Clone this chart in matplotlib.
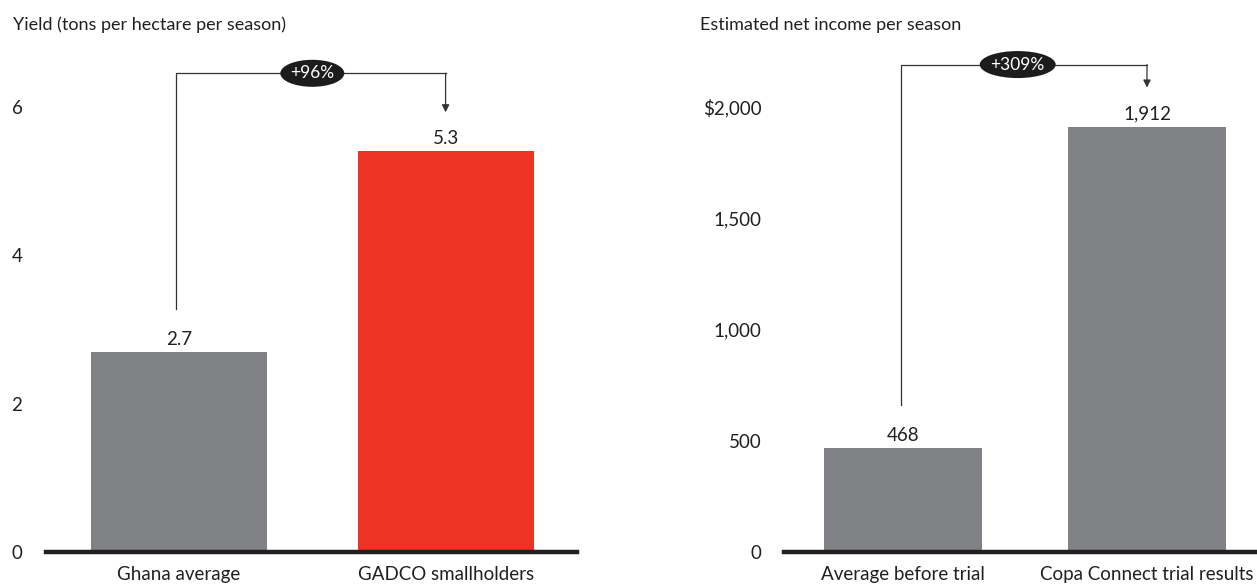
import matplotlib
matplotlib.use('Agg')
import matplotlib.pyplot as plt
from matplotlib.patches import Ellipse

# Left panel: yield
yield_labels = ['Ghana average', 'GADCO smallholders']
yield_values = [2.7, 5.4]
yield_value_text = ['2.7', '5.3']
yield_ticks = [0, 2, 4, 6]
yield_tick_text = ['0', '2', '4', '6']
yield_change = '+96%'

# Right panel: net income
income_labels = ['Average before trial', 'Copa Connect trial results']
income_values = [468, 1912]
income_value_text = ['468', '1,912']
income_ticks = [0, 500, 1000, 1500, 2000]
income_tick_text = ['0', '500', '1,000', '1,500', '$2,000']
income_change = '+309%'

GRAY = '#808184'
RED = '#ee3224'
INK = '#231f20'
FIG_W, FIG_H = 1257, 586
FS = 13.5

plt.rcParams['font.family'] = ['Lato', 'DejaVu Sans']


def px_scale(fig, ax):
    # data units per pixel, (x, y)
    pos = ax.get_position()
    w_px = pos.width * fig.get_figwidth() * fig.dpi
    h_px = pos.height * fig.get_figheight() * fig.dpi
    x0, x1 = ax.get_xlim()
    y0, y1 = ax.get_ylim()
    return (x1 - x0) / w_px, (y1 - y0) / h_px


def draw_panel(fig, rect, labels, values, value_text, ticks, tick_text,
               colors, ylim_top, xlim, bar_width, tick_pad, title, title_x,
               change, badge_x, badge_w, top_gap):
    ax = fig.add_axes(rect)
    x = list(range(len(values)))
    ax.bar(x, values, width=bar_width, color=colors, zorder=2)

    ax.set_xlim(*xlim)
    ax.set_ylim(0, ylim_top)
    ax.set_xticks(x)
    ax.set_xticklabels(labels, fontsize=FS, color=INK)
    ax.set_yticks(ticks)
    ax.set_yticklabels(tick_text, fontsize=FS, color=INK)
    ax.tick_params(axis='y', length=0, pad=tick_pad)
    ax.tick_params(axis='x', length=0, pad=10)

    for side in ['top', 'right', 'left']:
        ax.spines[side].set_visible(False)
    ax.spines['bottom'].set_color(INK)
    ax.spines['bottom'].set_linewidth(3.2)
    ax.spines['bottom'].set_zorder(3)

    for xi, v, t in zip(x, values, value_text):
        ax.annotate(t, (xi, v), xytext=(0, 5), textcoords='offset points',
                    ha='center', va='baseline', fontsize=FS, color=INK)

    # bracket with the growth badge
    sx, sy = px_scale(fig, ax)
    y_bottom = values[0] + 43 * sy
    y_top = values[1] + top_gap * sy
    y_tip = values[1] + 39 * sy
    ax.plot([x[0] - 0.01, x[0] - 0.01, x[1]], [y_bottom, y_top, y_top],
            color='#333333', lw=0.9, zorder=1, clip_on=False)
    ax.annotate('', xy=(x[1], y_tip), xytext=(x[1], y_top),
                arrowprops=dict(arrowstyle='-|>', color='#333333', lw=0.9,
                                mutation_scale=11, shrinkA=0, shrinkB=0))
    ax.add_patch(Ellipse((badge_x, y_top), badge_w * sx, 27 * sy,
                         fc='#1c1c1c', ec='none', zorder=4, clip_on=False))
    ax.text(badge_x, y_top, change, ha='center', va='center', color='white',
            fontsize=12.5, zorder=5)

    fig.text(title_x / FIG_W, 1 - 25 / FIG_H, title, ha='left', va='center',
             fontsize=13, color=INK)
    return ax


fig = plt.figure(figsize=(FIG_W / 100, FIG_H / 100), dpi=100)

draw_panel(fig, [46 / FIG_W, 34 / FIG_H, 531 / FIG_W, 512 / FIG_H],
           yield_labels, yield_values, yield_value_text, yield_ticks,
           yield_tick_text, [GRAY, RED], 6.9, (-0.499, 1.493), 0.66, 17,
           'Yield (tons per hectare per season)', 13, yield_change, 0.5, 64, 78)

draw_panel(fig, [784 / FIG_W, 34 / FIG_H, 473 / FIG_W, 512 / FIG_H],
           income_labels, income_values, income_value_text, income_ticks,
           income_tick_text, [GRAY, GRAY], 2301, (-0.488, 1.451), 0.65, 16,
           'Estimated net income per season', 700, income_change, 0.47, 76, 62)

fig.savefig('out.png', dpi=100)
plt.close(fig)
